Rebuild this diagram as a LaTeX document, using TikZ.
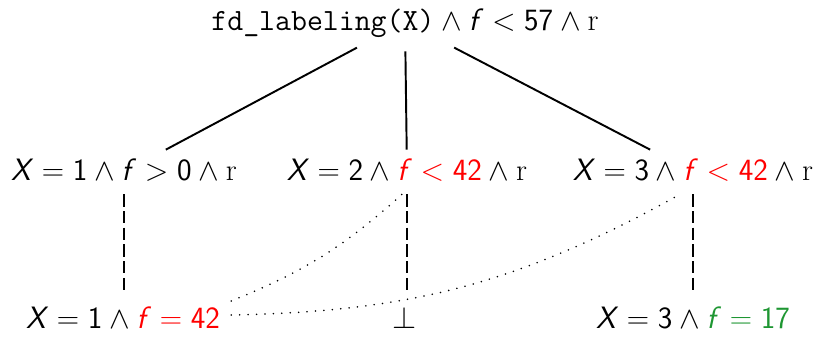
\RequirePackage{fix-cm}
\documentclass[tikz,border=0pt]{standalone}
\usepackage{amsmath, amssymb}
\usepackage{tikz}
\usetikzlibrary{positioning, calc}
\definecolor{okgreen}{RGB}{30,150,50}
\newcommand{\sv}[1]{\text{\sffamily\itshape #1\/}}
\newcommand{\sn}[1]{\text{\sffamily #1}}

\begin{document}
\begin{tikzpicture}[
      goal/.style={inner xsep=0.22cm, inner ysep=0.17cm, text height=0.44cm, text depth=0.1cm, font=\fontsize{17.6}{21}\selectfont},
      tree/.style={line width=1.1pt, shorten <=0.14cm},
      branch/.style={line width=1.1pt, dash pattern=on 7pt off 2.5pt, shorten >=0.08cm},
      link/.style={line width=1pt, line cap=round, dash pattern=on 0pt off 4.8pt}]
      \useasboundingbox (0,0) rectangle (16.28,6.72);
      \node[goal] (root) at (8.1,6.28) {$\texttt{fd\_labeling(X)}\wedge\sv{f}<\sn{57}\wedge\mathrm{r}$};
      \node[goal] (m1) at (2.48,3.28)  {$\sv{X}=\sn{1}\wedge\sv{f}>\sn{0}\wedge\mathrm{r}$};
      \node[goal] (m2) at (8.14,3.28) {$\sv{X}=\sn{2}\wedge{\color{red}\sv{f}<\sn{42}}\wedge\mathrm{r}$};
      \node[goal] (m3) at (13.86,3.28) {$\sv{X}=\sn{3}\wedge{\color{red}\sv{f}<\sn{42}}\wedge\mathrm{r}$};
      \node[goal] (b1) at (2.46,0.32)  {$\sv{X}=\sn{1}\wedge{\color{red}\sv{f}=\sn{42}}$};
      \node[goal] (b2) at (8.1,0.32)   {$\bot$};
      \node[goal] (b3) at (13.86,0.32) {$\sv{X}=\sn{3}\wedge{\color{okgreen}\sv{f}=\sn{17}}$};
      \draw[tree](root)--(m1);\draw[tree](root)--(m2);\draw[tree](root)--(m3);
      \draw[branch](m1.south)--(m1.south|-b1.north);\draw[branch](m2.south)--(m2.south|-b2.north);\draw[branch](m3.south)--(m3.south|-b3.north);
      \draw[link]([yshift=0.38cm]b1.east) to[bend right=10] ([xshift=-0.1cm]m2.south);
      \draw[link]([yshift=0.1cm]b1.east) to[bend right=14] ([xshift=-0.26cm]m3.south);
    \end{tikzpicture}
\end{document}
